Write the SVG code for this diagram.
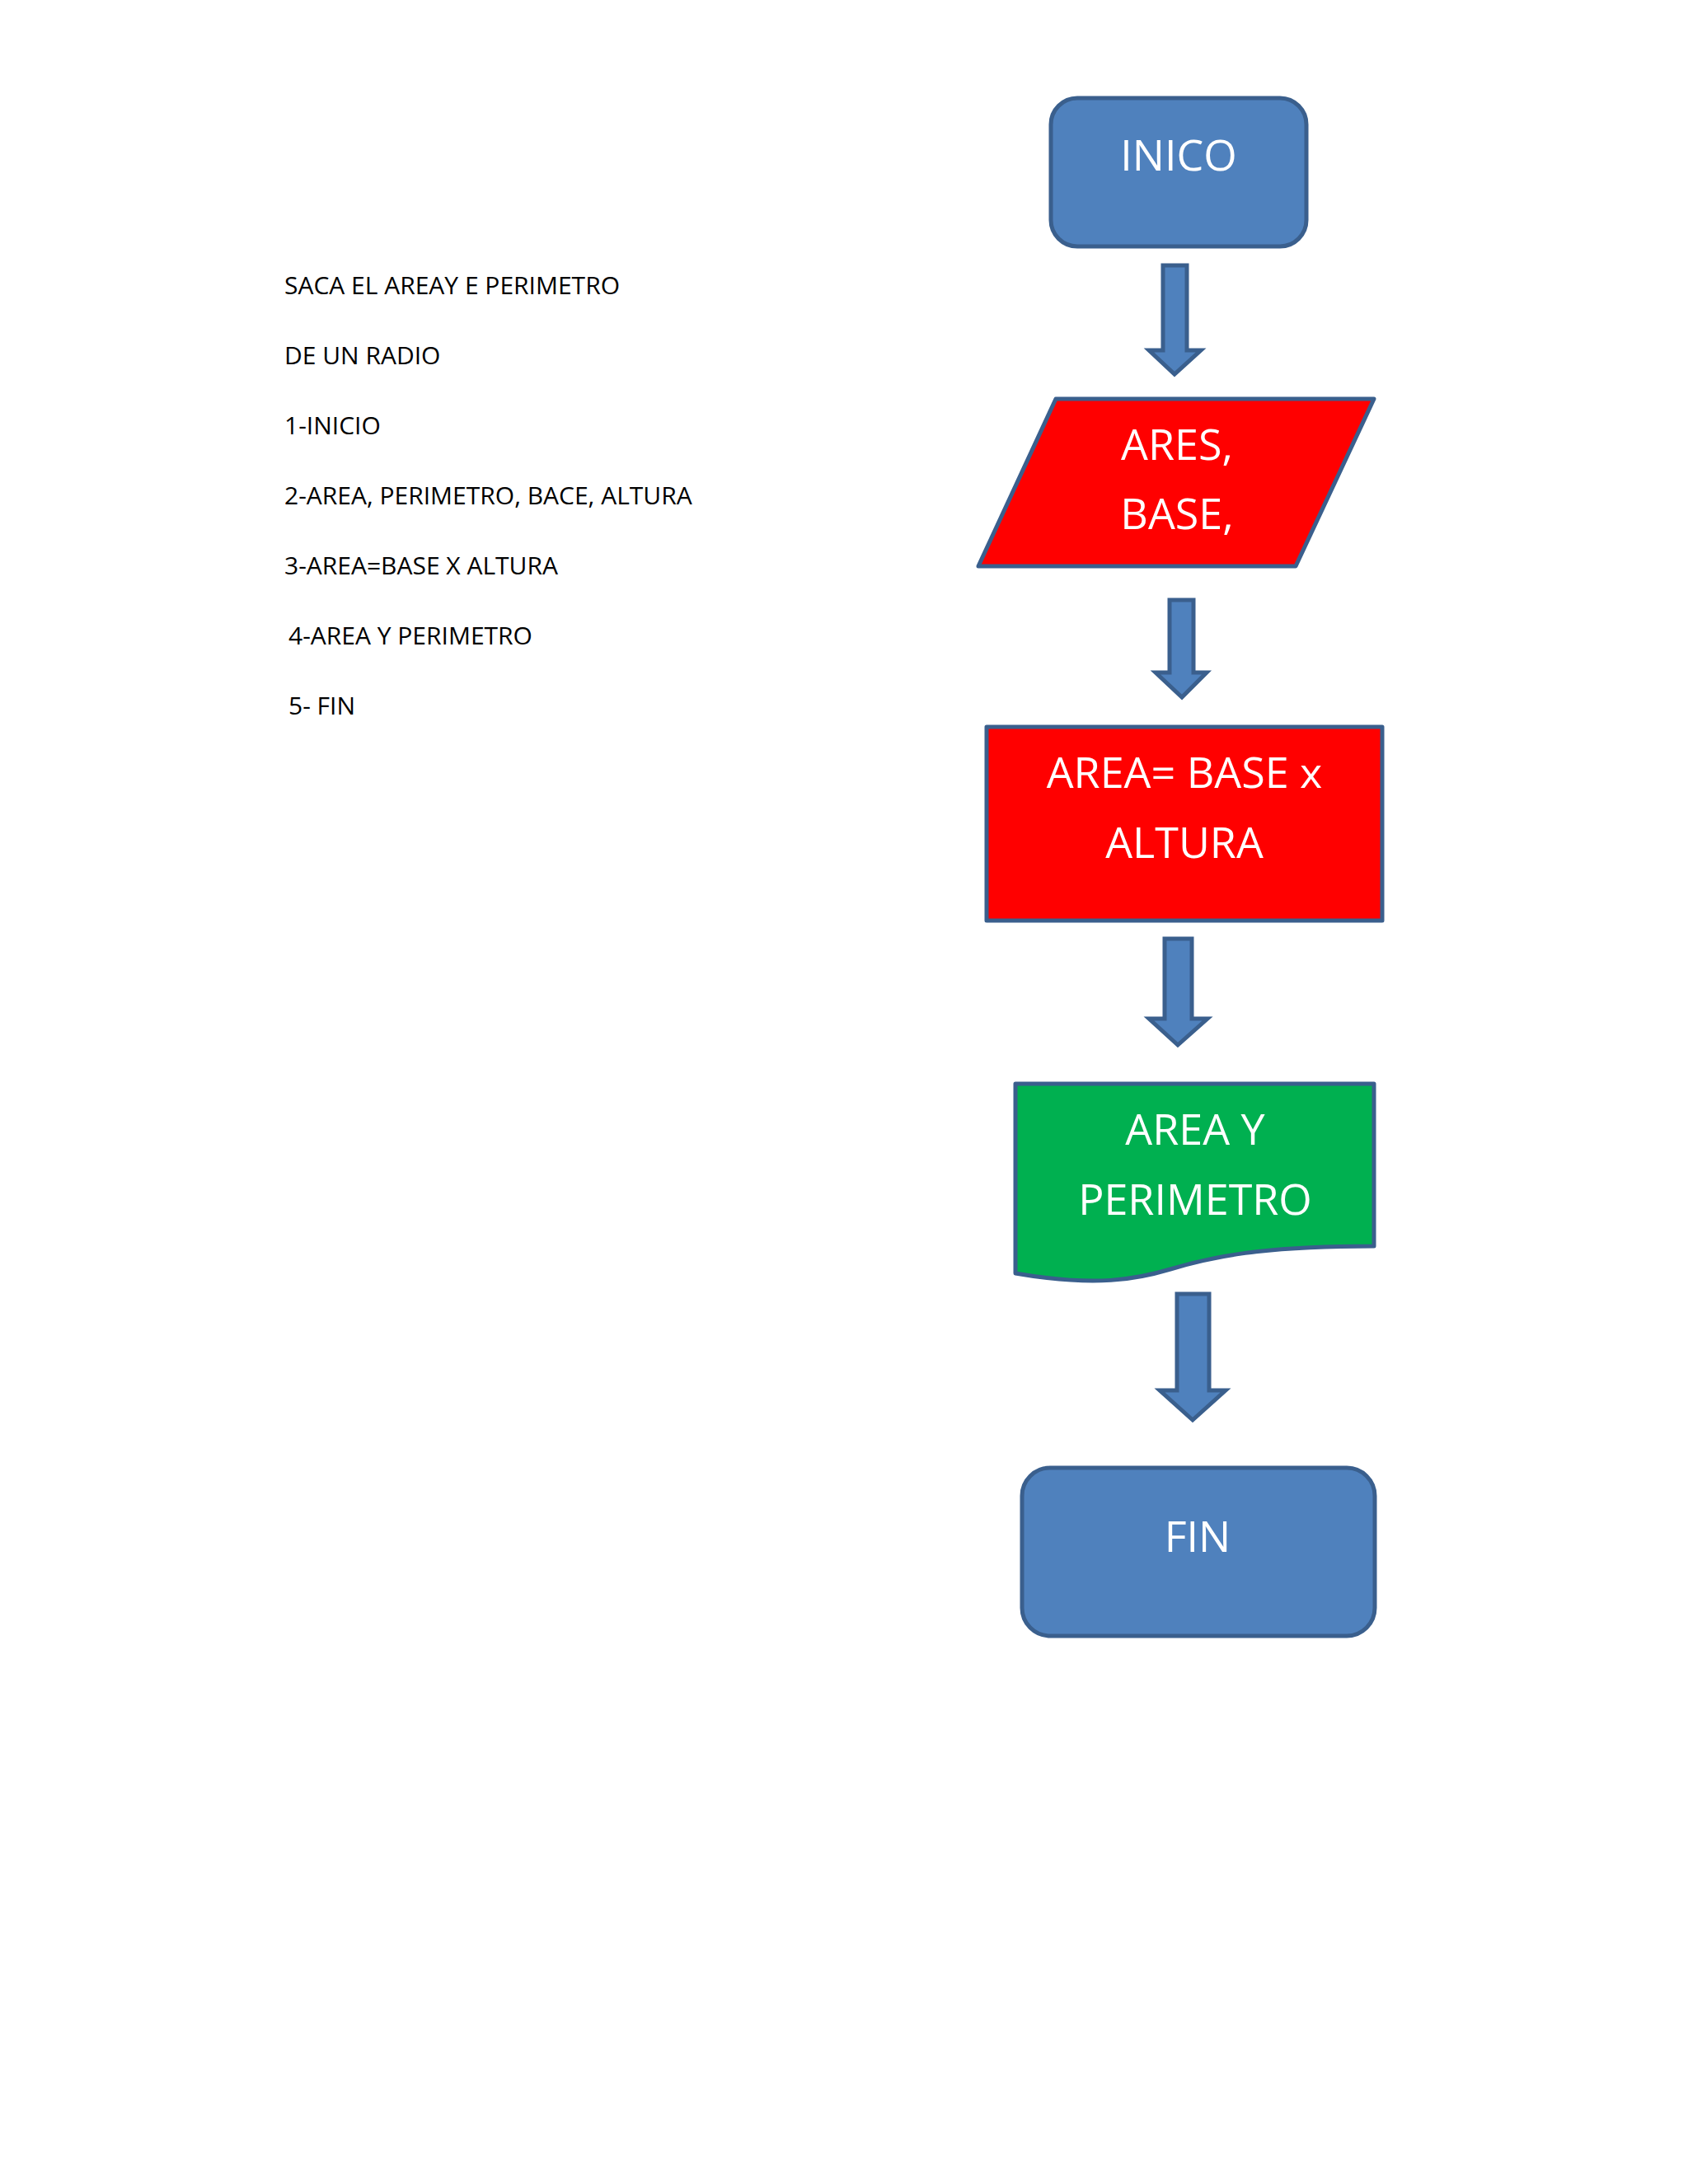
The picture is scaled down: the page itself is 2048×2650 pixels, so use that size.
<svg xmlns="http://www.w3.org/2000/svg" width="2048" height="2650" viewBox="0 0 2048 2650">
<style>
.n{stroke:#3A5F8D;stroke-width:5;stroke-linejoin:round}
.b{fill:#4F81BD}
.t{font-family:"Open Sans","Liberation Sans",sans-serif;fill:#fff;font-size:52px;text-anchor:middle}
.l{font-family:"Open Sans","Liberation Sans",sans-serif;fill:#000;font-size:30px}
.a{fill:#4F81BD;stroke:#3A5F8D;stroke-width:5;stroke-linejoin:miter}
</style>
<rect width="2048" height="2650" fill="#fff"/>
<g id="notes">
<text class="l" x="345" y="357">SACA EL AREAY E PERIMETRO</text>
<text class="l" x="345" y="442">DE UN RADIO</text>
<text class="l" x="345" y="527">1-INICIO</text>
<text class="l" x="345" y="612">2-AREA, PERIMETRO, BACE, ALTURA</text>
<text class="l" x="345" y="697">3-AREA=BASE X ALTURA</text>
<text class="l" x="350" y="782">4-AREA Y PERIMETRO</text>
<text class="l" x="350" y="867">5- FIN</text>
</g>
<g id="inicio"><rect class="n b" x="1275" y="119" width="310" height="180" rx="32"/><text class="t" x="1430" y="207">INICO</text></g>
<g id="entrada"><polygon class="n" fill="#FF0000" points="1281,484 1667,484 1572,687 1187,687"/><text class="t" x="1428" y="558">ARES,</text><text class="t" x="1428" y="642">BASE,</text></g>
<g id="proceso"><rect class="n" fill="#FF0000" x="1197" y="882" width="480" height="235"/><text class="t" x="1437" y="956">AREA= BASE x</text><text class="t" x="1437" y="1041">ALTURA</text></g>
<g id="salida"><path class="n" fill="#00B050" d="M1232,1315 H1667 V1512 C1530,1512 1470,1525 1420,1540 C1380,1552 1330,1562 1232,1545 Z"/><text class="t" x="1450" y="1389">AREA Y</text><text class="t" x="1450" y="1474">PERIMETRO</text></g>
<g id="fin"><rect class="n b" x="1240" y="1781" width="428" height="204" rx="34"/><text class="t" x="1453" y="1883">FIN</text></g>
<g id="connectors">
<polygon class="a" points="1411,322 1440,322 1440,425 1457,425 1425,454 1394,425 1411,425"/>
<polygon class="a" points="1419,728 1448,728 1448,816 1464,816 1434,846 1402,816 1419,816"/>
<polygon class="a" points="1413,1139 1446,1139 1446,1236 1465,1236 1429,1268 1394,1236 1413,1236"/>
<polygon class="a" points="1428,1570 1467,1570 1467,1687 1487,1687 1447,1723 1407,1687 1428,1687"/>
</g>
</svg>
